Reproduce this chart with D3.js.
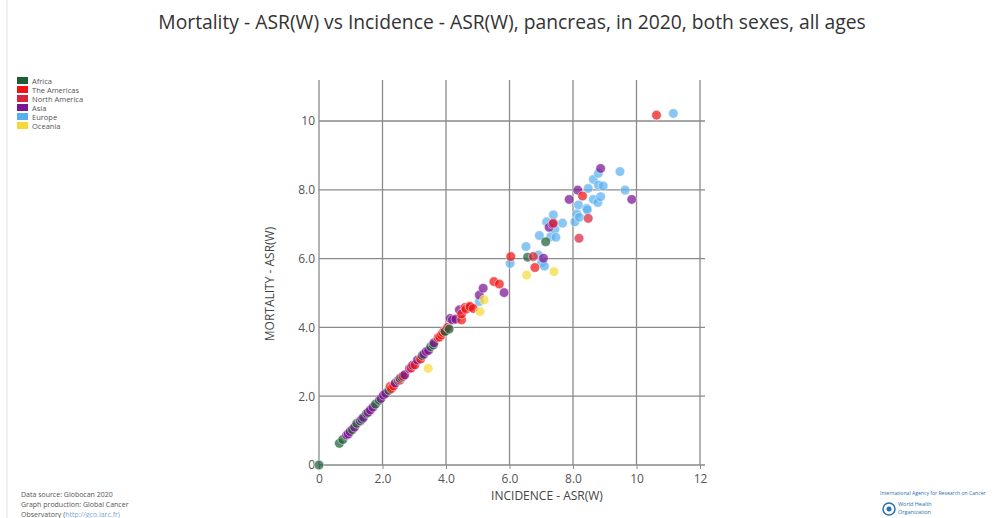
<!DOCTYPE html>
<html>
<head>
<meta charset="utf-8">
<script src="https://cdn.jsdelivr.net/npm/d3@7"></script>
<style>
  body { margin: 0; background: #fff; }
  text { font-family: "Open Sans", "Noto Sans", sans-serif; }
</style>
</head>
<body>
<div id="drawing"></div>
<script>
// regions and colours
var regions = ["Africa", "The Americas", "North America", "Asia", "Europe", "Oceania"];
var regionColors = ["#1d5e37", "#f01414", "#d8243c", "#7a1490", "#5ab0ee", "#f5d93c"];

// [incidence, mortality] per country
var africa = [[0, 0], [0.64, 0.63], [0.75, 0.74], [1.05, 1.03], [1.19, 1.21], [1.35, 1.33], [1.5, 1.5],
  [1.78, 1.77], [1.9, 1.88], [2.2, 2.17], [2.5, 2.45], [2.6, 2.55], [3.25, 3.18], [3.52, 3.44],
  [3.6, 3.49], [3.97, 3.88], [4.1, 3.95], [6.57, 6.04], [7.14, 6.49]];
var americas = [[2.24, 2.28], [2.28, 2.22], [2.35, 2.3], [2.55, 2.47], [2.65, 2.58], [2.9, 2.82],
  [3.02, 2.91], [3.2, 3.08], [3.75, 3.7], [3.8, 3.72], [3.86, 3.78], [3.9, 3.85], [3.95, 3.9],
  [4.49, 4.22], [4.49, 4.39], [4.6, 4.58], [4.63, 4.53], [4.76, 4.6], [4.86, 4.55], [5.51, 5.33],
  [5.68, 5.26], [6.04, 6.06], [6.8, 5.74], [8.3, 7.82], [10.63, 10.17]];
var northAmerica = [[4.05, 4.0], [4.75, 4.62], [6.75, 6.06], [7.38, 7.03], [8.19, 6.59], [8.48, 7.17]];
var asia = [[0.87, 0.87], [0.92, 0.9], [0.98, 0.97], [1.12, 1.1], [1.3, 1.28], [1.4, 1.38], [1.55, 1.53],
  [1.62, 1.6], [1.7, 1.68], [1.95, 1.93], [2.03, 2.03], [2.1, 2.08], [2.4, 2.38], [2.55, 2.52],
  [2.7, 2.62], [2.85, 2.8], [2.95, 2.9], [3.1, 3.05], [3.3, 3.22], [3.38, 3.3], [3.45, 3.33],
  [3.62, 3.55], [4.13, 4.26], [4.2, 4.22], [4.31, 4.24], [4.42, 4.51], [5.05, 4.94], [5.17, 5.14],
  [5.83, 5.01], [7.07, 6.01], [7.25, 6.91], [7.36, 7.0], [7.88, 7.72], [8.15, 7.99], [8.87, 8.62],
  [9.85, 7.72]];
var europe = [[5.05, 4.75], [6.02, 5.86], [6.52, 6.35], [6.91, 6.1], [7.01, 5.88], [7.1, 5.78],
  [6.94, 6.67], [7.3, 6.64], [7.46, 6.62], [7.17, 7.07], [7.38, 7.27], [7.43, 6.85], [7.67, 7.03],
  [8.06, 7.07], [8.12, 7.3], [8.2, 7.2], [8.43, 7.46], [8.17, 7.56], [8.45, 7.42], [8.64, 7.72],
  [8.87, 7.8], [8.78, 7.63], [8.48, 8.04], [8.64, 8.3], [8.8, 8.14], [8.95, 8.11], [8.8, 8.48],
  [9.48, 8.53], [9.64, 7.99], [11.16, 10.22]];
var oceania = [[3.44, 2.81], [5.07, 4.46], [5.2, 4.8], [6.54, 5.52], [7.4, 5.62]];

var xTicks = [0, 2, 4, 6, 8, 10, 12];
var yTicks = [0, 2, 4, 6, 8, 10];

var width = 996;
var height = 518;
var plot = {left: 319, right: 700, top: 80, bottom: 465};

var svg = d3.select("#drawing").append("svg")
  .attr("width", width)
  .attr("height", height);

// page frame
svg.append("line").attr("x1", 7).attr("x2", 7).attr("y1", 0).attr("y2", height)
  .attr("stroke", "#e2e2e2");

svg.append("text")
  .attr("x", 512).attr("y", 29)
  .attr("text-anchor", "middle")
  .style("font-size", "19.3px")
  .style("fill", "#333")
  .text("Mortality - ASR(W) vs Incidence - ASR(W), pancreas, in 2020, both sexes, all ages");

var xScale = d3.scaleLinear().domain([0, 12]).range([plot.left, plot.right]);
var yScale = d3.scaleLinear().domain([0, 10]).range([plot.bottom, 121]);

var fmt = function(d) { return d === 0 || d >= 10 ? String(d) : d.toFixed(1); };

// grid
var grid = svg.append("g");
grid.selectAll(".vg").data(xTicks.slice(1)).enter().append("line")
  .attr("x1", xScale).attr("x2", xScale)
  .attr("y1", plot.top).attr("y2", plot.bottom)
  .attr("stroke", "#8a8a8a").attr("stroke-width", 1.3);
grid.selectAll(".hg").data(yTicks.slice(1)).enter().append("line")
  .attr("x1", plot.left).attr("x2", 705)
  .attr("y1", yScale).attr("y2", yScale)
  .attr("stroke", "#8a8a8a").attr("stroke-width", 1.3);

// axes
var xAxis = svg.append("g")
  .attr("transform", "translate(0," + plot.bottom + ")")
  .call(d3.axisBottom(xScale).tickValues(xTicks).tickFormat(fmt).tickSize(4).tickSizeOuter(0));
xAxis.select(".domain").attr("d", "M" + plot.left + ",0H705").attr("stroke", "#8a8a8a").attr("stroke-width", 1.3);
xAxis.selectAll(".tick line").attr("stroke", "#8a8a8a");
xAxis.selectAll(".tick text").attr("dy", "0.9em").style("font-size", "12px").style("fill", "#555")
  .style("font-family", "'Open Sans', sans-serif");

var yAxis = svg.append("g")
  .attr("transform", "translate(" + plot.left + ",0)")
  .call(d3.axisLeft(yScale).tickValues(yTicks).tickFormat(fmt).tickSize(0).tickPadding(4));
yAxis.select(".domain").attr("d", "M0," + plot.top + "V" + plot.bottom).attr("stroke", "#8a8a8a").attr("stroke-width", 1.3);
yAxis.selectAll(".tick text").style("font-size", "12px").style("fill", "#555")
  .style("font-family", "'Open Sans', sans-serif");

svg.append("text")
  .attr("x", 547).attr("y", 500)
  .attr("text-anchor", "middle")
  .style("font-size", "12px").style("fill", "#444")
  .text("INCIDENCE - ASR(W)");

svg.append("text")
  .attr("transform", "translate(274,284) rotate(-90)")
  .attr("text-anchor", "middle")
  .style("font-size", "12px").style("fill", "#444")
  .text("MORTALITY - ASR(W)");

// points
var series = [africa, americas, northAmerica, asia, europe, oceania];
var points = [];
series.forEach(function(s, i) {
  s.forEach(function(p) { points.push({x: p[0], y: p[1], region: i}); });
});
// europe first, then the rest in order along x so the colours mix on the diagonal
points.sort(function(a, b) {
  var ea = a.region === 4 ? 0 : 1, eb = b.region === 4 ? 0 : 1;
  return ea - eb || a.x - b.x;
});

svg.append("g").selectAll("circle")
  .data(points)
  .enter().append("circle")
  .attr("cx", function(d) { return xScale(d.x); })
  .attr("cy", function(d) { return yScale(d.y); })
  .attr("r", 4.8)
  .attr("fill", function(d) { return regionColors[d.region]; })
  .attr("fill-opacity", 0.72)
  .attr("stroke", "#fff")
  .attr("stroke-opacity", 0.6)
  .attr("stroke-width", 0.8);

// legend
var legend = svg.append("g").attr("transform", "translate(17,77)");
var item = legend.selectAll("g").data(regions).enter().append("g")
  .attr("transform", function(d, i) { return "translate(0," + (i * 9) + ")"; });
item.append("rect").attr("width", 11).attr("height", 7)
  .attr("fill", function(d, i) { return regionColors[i]; });
item.append("text").attr("x", 15).attr("y", 6.5)
  .style("font-size", "7.5px").style("fill", "#555")
  .text(function(d) { return d; });

// footer
var foot = svg.append("g").style("font-size", "7px").style("fill", "#555");
foot.append("text").attr("x", 21).attr("y", 497).text("Data source: Globocan 2020");
foot.append("text").attr("x", 21).attr("y", 507).text("Graph production: Global Cancer");
foot.append("text").attr("x", 21).attr("y", 517).text("Observatory (")
  .append("tspan").style("fill", "#7aa7d8").text("http://gco.iarc.fr)");

svg.append("text").attr("x", 880).attr("y", 495)
  .style("font-size", "5.1px").style("fill", "#2a6fb5")
  .text("International Agency for Research on Cancer");
svg.append("circle").attr("cx", 889).attr("cy", 509).attr("r", 6)
  .attr("fill", "none").attr("stroke", "#2a6fb5").attr("stroke-width", 1.5);
svg.append("circle").attr("cx", 889).attr("cy", 509).attr("r", 2.5)
  .attr("fill", "#2a6fb5");
var who = svg.append("g").style("font-size", "5.5px").style("fill", "#2a6fb5");
who.append("text").attr("x", 898).attr("y", 506).text("World Health");
who.append("text").attr("x", 898).attr("y", 513.5).text("Organization");
</script>
</body>
</html>
